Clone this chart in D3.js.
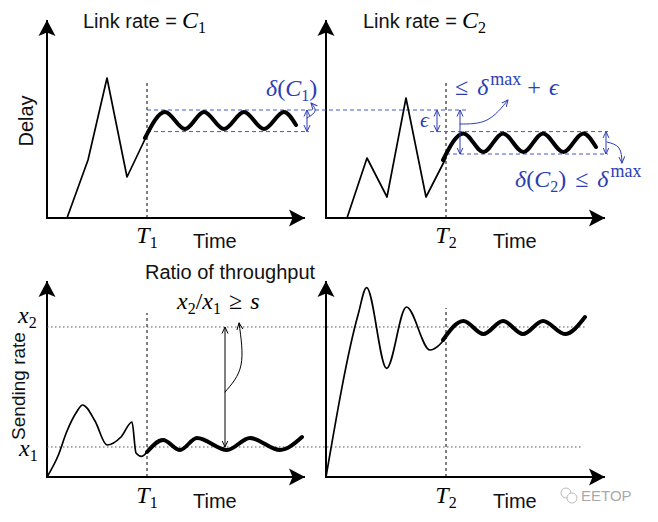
<!DOCTYPE html>
<html>
<head>
<meta charset="utf-8">
<script src="https://cdn.jsdelivr.net/npm/d3@7"></script>
<style>
  body { margin: 0; background: #fff; }
  text { font-family: "Liberation Sans", Arial, sans-serif; }
</style>
</head>
<body>
<div id="chart"></div>
<script>

// Sketch of delay / sending rate before and after convergence

const width = 658;
const height = 522;
const blue = "#2d3db5";
const dashBlue = "#4556cc";
const mathFont = "'Liberation Serif', 'DejaVu Serif', serif";

// Curves as [time, value] pairs (time 0..140, value 0..100)
const delayC1 = [[10, 0], [20.5, 29], [30, 70], [40, 20.5], [50, 41.5]];
const delayC1Steady = [[49, 40], [59, 53], [69, 44.5], [78.5, 53], [88.5, 44.5], [98.5, 53], [108.5, 44.5], [118.5, 53], [124.5, 46.5]];

const delayC2 = [[10.5, 0], [20.5, 30], [30.5, 10.5], [40, 60], [50, 10.5], [60, 30]];
const delayC2Steady = [[58.5, 29], [68.7, 42.3], [78.7, 33], [88.5, 42.3], [98.7, 33], [108.5, 42.3], [118.7, 33], [128.7, 42.3], [135, 35.5]];

const rateX1 = [[0, 0], [5.7, 11], [9.8, 22.5], [14.8, 32.5], [17.8, 36], [24, 28], [30, 16], [37, 20], [42.5, 27.5], [44.5, 12], [47.3, 10.3], [50, 12.5]];
const rateX1Steady = [[50, 12.5], [58, 18.5], [66.5, 13.5], [75, 19.5], [90, 13.5], [101.5, 19.5], [116.5, 13.5], [127.5, 20]];

const rateX2 = [[0, 0], [16, 81], [20.3, 94.7], [30.3, 54.3], [40.2, 85], [52, 63.5], [60, 69.6]];
const rateX2Steady = [[58.5, 68.5], [68.7, 78], [78.7, 71.5], [88.5, 78], [98.5, 71.5], [108.5, 78], [119.5, 71.5], [129.5, 80]];

// Convergence times and levels
const convTimes = [50, 60];          // T1, T2
const delayLevels = [54, 43.2, 32];  // delta(C1) top, delta(C1) bottom / delta(C2) top, delta(C2) bottom
const rateLevels = [15, 75];         // x1, x2

// Panel frames (layout only)
const panels = [
  {x0: 47,  y0: 218, xEnd: 129,   yEnd: 99},
  {x0: 326, y0: 218, xEnd: 139.5, yEnd: 99},
  {x0: 47,  y0: 477, xEnd: 129,   yEnd: 98},
  {x0: 326, y0: 477, xEnd: 139.5, yEnd: 98}
];
panels.forEach(p => {
  p.x = d3.scaleLinear().domain([0, 130]).range([p.x0, p.x0 + 260]);
  p.y = d3.scaleLinear().domain([0, 100]).range([p.y0, p.y0 - 200]);
});

const svg = d3.select("#chart")
  .append("svg")
  .attr("width", width)
  .attr("height", height);

/*
  Markers
*/
const defs = svg.append("defs");

defs.append("marker")
  .attr("id", "big")
  .attr("viewBox", "0 -9 17 18")
  .attr("refX", 16).attr("refY", 0)
  .attr("markerWidth", 17).attr("markerHeight", 18)
  .attr("markerUnits", "userSpaceOnUse")
  .attr("orient", "auto")
  .append("path")
  .attr("d", "M16,0 L0,-8.5 L3.5,0 L0,8.5 Z")
  .attr("fill", "#000");

function smallMarker(id, color) {
  defs.append("marker")
    .attr("id", id)
    .attr("viewBox", "0 -4 7 8")
    .attr("refX", 6.5).attr("refY", 0)
    .attr("markerWidth", 7).attr("markerHeight", 8)
    .attr("markerUnits", "userSpaceOnUse")
    .attr("orient", "auto-start-reverse")
    .append("path")
    .attr("d", "M0,-3 L6.5,0 L0,3")
    .attr("fill", "none")
    .attr("stroke", color)
    .attr("stroke-width", 1);
}
smallMarker("sb", blue);
smallMarker("sk", "#000");

/*
  Axes
*/
panels.forEach(p => {
  svg.append("line")
    .attr("x1", p.x(0)).attr("y1", p.y(0))
    .attr("x2", p.x(0)).attr("y2", p.y(p.yEnd))
    .attr("stroke", "#000").attr("stroke-width", 2)
    .attr("marker-end", "url(#big)");
  svg.append("line")
    .attr("x1", p.x(0) - 1).attr("y1", p.y(0))
    .attr("x2", p.x(p.xEnd)).attr("y2", p.y(0))
    .attr("stroke", "#000").attr("stroke-width", 2)
    .attr("marker-end", "url(#big)");
});

function lineIn(p, curve) {
  return d3.line().x(d => p.x(d[0])).y(d => p.y(d[1])).curve(curve || d3.curveLinear);
}

function path(p, data, curve, color, w, extra) {
  const s = svg.append("path")
    .attr("d", lineIn(p, curve)(data))
    .attr("fill", "none")
    .attr("stroke", color)
    .attr("stroke-width", w)
    .attr("stroke-linejoin", "round")
    .attr("stroke-linecap", "round");
  if (extra) extra(s);
  return s;
}

/*
  Reference lines
*/
const [P1, P2, P3, P4] = panels;

// T lines
const tDash = s => s.attr("stroke-dasharray", "3,3").attr("stroke-linecap", "butt");
path(P1, [[convTimes[0], 0], [convTimes[0], 68]], null, "#000", 1, tDash);
path(P2, [[convTimes[1], 0], [convTimes[1], 69]], null, "#000", 1, tDash);
path(P3, [[convTimes[0], 0], [convTimes[0], 82]], null, "#000", 1, tDash);
path(P4, [[convTimes[1], 0], [convTimes[1], 84.5]], null, "#000", 1, tDash);

// blue delay levels
const blueDash = s => s.attr("stroke-dasharray", "4,3").attr("stroke-linecap", "butt");
path(P1, [[50, delayLevels[0]], [210, delayLevels[0]]], null, dashBlue, 1, blueDash);
path(P1, [[50, delayLevels[1]], [131, delayLevels[1]]], null, dashBlue, 1, blueDash);
path(P2, [[52, delayLevels[1]], [141, delayLevels[1]]], null, dashBlue, 1, blueDash);
path(P2, [[60, delayLevels[2]], [141, delayLevels[2]]], null, dashBlue, 1, blueDash);

// grey rate levels
const dotted = s => s.attr("stroke-dasharray", "1.5,2.5").attr("stroke-linecap", "butt");
path(P3, [[0, rateLevels[0]], [268, rateLevels[0]]], null, "#555", 1, dotted);
path(P3, [[0, rateLevels[1]], [270, rateLevels[1]]], null, "#555", 1, dotted);

/*
  Curves
*/
path(P1, delayC1, d3.curveLinear, "#000", 1.7);
path(P1, delayC1Steady, d3.curveMonotoneX, "#000", 4);
path(P2, delayC2, d3.curveLinear, "#000", 1.7);
path(P2, delayC2Steady, d3.curveMonotoneX, "#000", 4);
path(P3, rateX1, d3.curveMonotoneX, "#000", 1.7);
path(P3, rateX1Steady, d3.curveMonotoneX, "#000", 4);
path(P4, rateX2, d3.curveMonotoneX, "#000", 1.7);
path(P4, rateX2Steady, d3.curveMonotoneX, "#000", 4);

/*
  Annotation arrows
*/
function dbl(p, t, a, b, color, marker) {
  path(p, [[t, a], [t, b]], null, color, 1, s => s
    .attr("stroke-linecap", "butt")
    .attr("marker-start", `url(#${marker})`)
    .attr("marker-end", `url(#${marker})`));
}
dbl(P1, 130, delayLevels[0], delayLevels[1], blue, "sb");
dbl(P2, 55.5, delayLevels[0], delayLevels[1], blue, "sb");
dbl(P2, 67, delayLevels[0], delayLevels[2], blue, "sb");
dbl(P2, 140, delayLevels[1], delayLevels[2], blue, "sb");
dbl(P3, 89, rateLevels[1], rateLevels[0], "#000", "sk");

function bend(p, pts, color, marker) {
  path(p, pts, d3.curveNatural, color, 1, s => s.attr("marker-end", `url(#${marker})`));
}
bend(P1, [[130, 50], [134, 53.5], [132, 57.5]], blue, "sb");
bend(P2, [[67, 47], [80.5, 49], [91, 59]], blue, "sb");
bend(P2, [[140.5, 38], [146.5, 35], [148, 27.5]], blue, "sb");
bend(P3, [[89, 42.5], [97, 56], [96, 77]], "#000", "sk");

/*
  Text
*/
function math(x, y, parts, opts) {
  opts = opts || {};
  const t = svg.append("text")
    .attr("x", x).attr("y", y)
    .attr("text-anchor", opts.anchor || "start")
    .attr("fill", opts.color || "#000")
    .style("font-family", mathFont)
    .style("font-size", (opts.size || 24) + "px");
  let shift = 0;
  parts.forEach(part => {
    const s = t.append("tspan").text(part.t);
    if (part.i) s.style("font-style", "italic");
    const target = part.sub ? 5 : part.sup ? -10 : 0;
    s.attr("dy", target - shift);
    shift = target;
    if (part.sub) s.style("font-size", "16px");
    if (part.sup) s.style("font-size", "18px");
    if (part.dx) s.attr("dx", part.dx);
  });
  return t;
}

function plain(x, y, str, rotate, size) {
  const t = svg.append("text")
    .attr("font-size", size || 20)
    .attr("fill", "#111")
    .text(str);
  if (rotate) {
    t.attr("text-anchor", "middle")
     .attr("transform", `translate(${x},${y}) rotate(-90)`);
  } else {
    t.attr("x", x).attr("y", y);
  }
  return t;
}

// titles
plain(83, 28, "Link rate =");
math(182, 28, [{t: "C", i: true}, {t: "1", sub: true}]);
plain(363, 28, "Link rate =");
math(462, 28, [{t: "C", i: true}, {t: "2", sub: true}]);

// axis names
plain(33, 121, "Delay", true);
plain(25, 386, "Sending rate", true, 19);
plain(P1.x(convTimes[0]) + 46, 248, "Time");
plain(P2.x(convTimes[1]) + 47, 248, "Time");
plain(P3.x(convTimes[0]) + 46, 508, "Time");
plain(P4.x(convTimes[1]) + 47, 508, "Time");

// T ticks
math(P1.x(convTimes[0]), 243, [{t: "T", i: true}, {t: "1", sub: true}], {anchor: "middle"});
math(P2.x(convTimes[1]), 243, [{t: "T", i: true}, {t: "2", sub: true}], {anchor: "middle"});
math(P3.x(convTimes[0]), 503, [{t: "T", i: true}, {t: "1", sub: true}], {anchor: "middle"});
math(P4.x(convTimes[1]), 503, [{t: "T", i: true}, {t: "2", sub: true}], {anchor: "middle"});

// x1, x2 levels
math(18, P3.y(rateLevels[1]) - 4, [{t: "x", i: true}, {t: "2", sub: true}]);
math(19, P3.y(rateLevels[0]) + 9, [{t: "x", i: true}, {t: "1", sub: true}]);

// delay annotations
math(266, 96, [{t: "δ", i: true}, {t: "("}, {t: "C", i: true}, {t: "1", sub: true}, {t: ")"}], {color: blue});
math(420, 127, [{t: "ϵ", i: true}], {color: blue, size: 22});
math(455, 95, [{t: "≤ "}, {t: "δ", i: true, dx: 3}, {t: "max", sup: true, dx: 2}, {t: " + "}, {t: "ϵ", i: true, dx: 2}], {color: blue});
math(515, 187, [{t: "δ", i: true}, {t: "("}, {t: "C", i: true}, {t: "2", sub: true}, {t: ")"}, {t: " ≤ ", dx: 3}, {t: "δ", i: true, dx: 3}, {t: "max", sup: true, dx: 2}], {color: blue});

// throughput annotation
plain(145, 279, "Ratio of throughput");
math(177, 309, [{t: "x", i: true}, {t: "2", sub: true}, {t: "/"}, {t: "x", i: true}, {t: "1", sub: true}, {t: " ≥ ", dx: 2}, {t: "s", i: true, dx: 2}]);

// watermark
svg.append("circle").attr("cx", 566).attr("cy", 493).attr("r", 5).attr("fill", "none").attr("stroke", "#bbb");
svg.append("circle").attr("cx", 572).attr("cy", 498).attr("r", 5).attr("fill", "#fff").attr("stroke", "#bbb");
svg.append("text")
  .attr("x", 581).attr("y", 501)
  .attr("font-size", 15)
  .attr("fill", "#aaa")
  .text("EETOP");

</script>
</body>
</html>
